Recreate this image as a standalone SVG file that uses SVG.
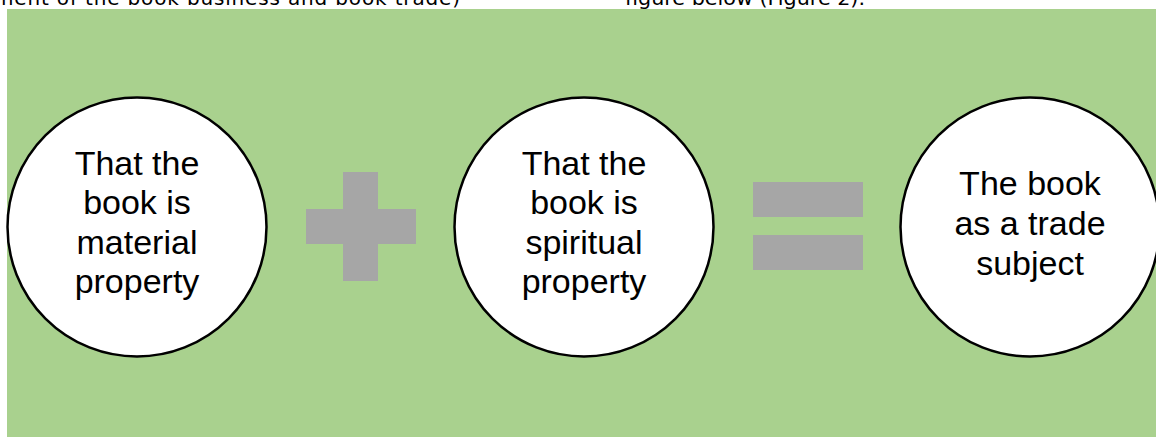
<svg xmlns="http://www.w3.org/2000/svg" width="1156" height="439" viewBox="0 0 1156 439">
<style>
.bg{fill:#A9D18E}
.node circle{fill:#FFFFFF;stroke:#000000;stroke-width:2.5}
.node text{font-family:"Liberation Sans",Arial,sans-serif;font-size:34px;fill:#000000;text-anchor:middle}
.op{fill:#A6A6A6}
.top{font-family:"DejaVu Sans",Verdana,sans-serif;font-size:20px;fill:#000000}
</style>
<rect width="1156" height="439" fill="#FFFFFF"/>
<text class="top" x="-6" y="5" textLength="466" lengthAdjust="spacing">ment of the book business and book trade)</text>
<text class="top" x="625" y="5" textLength="240" lengthAdjust="spacingAndGlyphs">figure below (Figure 2).</text>
<rect class="bg" x="7" y="9" width="1149" height="428"/>
<g id="connectors">
<g id="plus" class="op">
<rect x="343" y="172" width="35" height="109"/>
<rect x="306" y="209" width="110" height="35"/>
</g>
<g id="equals" class="op">
<rect x="753" y="182" width="110" height="35"/>
<rect x="753" y="235" width="110" height="35"/>
</g>
</g>
<g id="node-material" class="node">
<circle cx="137" cy="227" r="129.5"/>
<text x="137" y="175">That the</text>
<text x="137" y="214">book is</text>
<text x="137" y="254">material</text>
<text x="137" y="293">property</text>
</g>
<g id="node-spiritual" class="node">
<circle cx="584" cy="227" r="129.5"/>
<text x="584" y="175">That the</text>
<text x="584" y="214">book is</text>
<text x="584" y="254">spiritual</text>
<text x="584" y="293">property</text>
</g>
<g id="node-trade" class="node">
<circle cx="1030" cy="227" r="129.5"/>
<text x="1030" y="195">The book</text>
<text x="1030" y="235">as a trade</text>
<text x="1030" y="275">subject</text>
</g>
</svg>
